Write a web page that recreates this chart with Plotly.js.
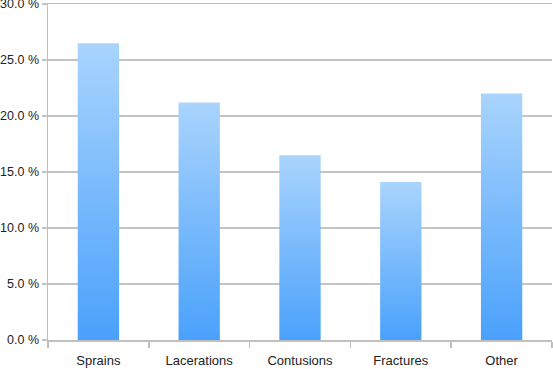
<!DOCTYPE html>
<html>
<head>
<meta charset="utf-8">
<script src="https://cdn.plot.ly/plotly-3.0.1.min.js"></script>
<style>html,body{margin:0;padding:0;background:#fff;}#chart{width:553px;height:369px;}</style>
</head>
<body>
<div id="chart"></div>
<script>
var categories = ["Sprains", "Lacerations", "Contusions", "Fractures", "Other"];
var percentValues = [26.5, 21.2, 16.5, 14.1, 22.0];
var yTickValues = [0, 5, 10, 15, 20, 25, 30];
var yTickLabels = ["0.0 %", "5.0 %", "10.0 %", "15.0 %", "20.0 %", "25.0 %", "30.0 %"];

var trace = {
  type: "bar",
  x: categories,
  y: percentValues,
  marker: {color: "#6fb5fc", line: {width: 0}},
  hoverinfo: "none"
};

var layout = {
  width: 553,
  height: 369,
  margin: {l: 48, r: 1, t: 4, b: 29, pad: 0},
  paper_bgcolor: "#fff",
  plot_bgcolor: "#fff",
  bargap: 0.59,
  showlegend: false,
  font: {family: "Liberation Sans, Arial, sans-serif", size: 13, color: "#222"},
  xaxis: {
    type: "category",
    showgrid: false,
    showline: true,
    mirror: true,
    linecolor: "#c0c0c0",
    linewidth: 1.5,
    ticks: "outside",
    tickson: "boundaries",
    ticklen: 6,
    tickcolor: "#c0c0c0",
    tickwidth: 1.5,
    ticklabelstandoff: 8,
    tickfont: {size: 13, color: "#222"},
    fixedrange: true
  },
  yaxis: {
    range: [0, 30],
    tickmode: "array",
    tickvals: yTickValues,
    ticktext: yTickLabels,
    ticklabeloverflow: "allow",
    showgrid: true,
    gridcolor: "#c4c4c4",
    gridwidth: 1.5,
    zeroline: false,
    showline: true,
    linecolor: "#c0c0c0",
    linewidth: 1.5,
    ticks: "outside",
    ticklen: 5,
    tickcolor: "#c4c4c4",
    tickwidth: 1.5,
    tickfont: {size: 12.5, color: "#222"},
    fixedrange: true
  }
};

Plotly.newPlot("chart", [trace], layout, {displayModeBar: false, staticPlot: true}).then(function (gd) {
  var ns = "http://www.w3.org/2000/svg";
  var svg = gd.querySelector("svg.main-svg");
  var defs = svg.querySelector("defs") || svg.insertBefore(document.createElementNS(ns, "defs"), svg.firstChild);
  var g = document.createElementNS(ns, "linearGradient");
  g.setAttribute("id", "barGrad");
  g.setAttribute("x1", "0"); g.setAttribute("y1", "0");
  g.setAttribute("x2", "0"); g.setAttribute("y2", "1");
  var s1 = document.createElementNS(ns, "stop");
  s1.setAttribute("offset", "0"); s1.setAttribute("stop-color", "#a9d4fd");
  var s2 = document.createElementNS(ns, "stop");
  s2.setAttribute("offset", "1"); s2.setAttribute("stop-color", "#4aa1fb");
  g.appendChild(s1); g.appendChild(s2);
  defs.appendChild(g);
  gd.querySelectorAll(".bars .point path").forEach(function (p) {
    p.style.fill = "url(#barGrad)";
  });
});
</script>
</body>
</html>
